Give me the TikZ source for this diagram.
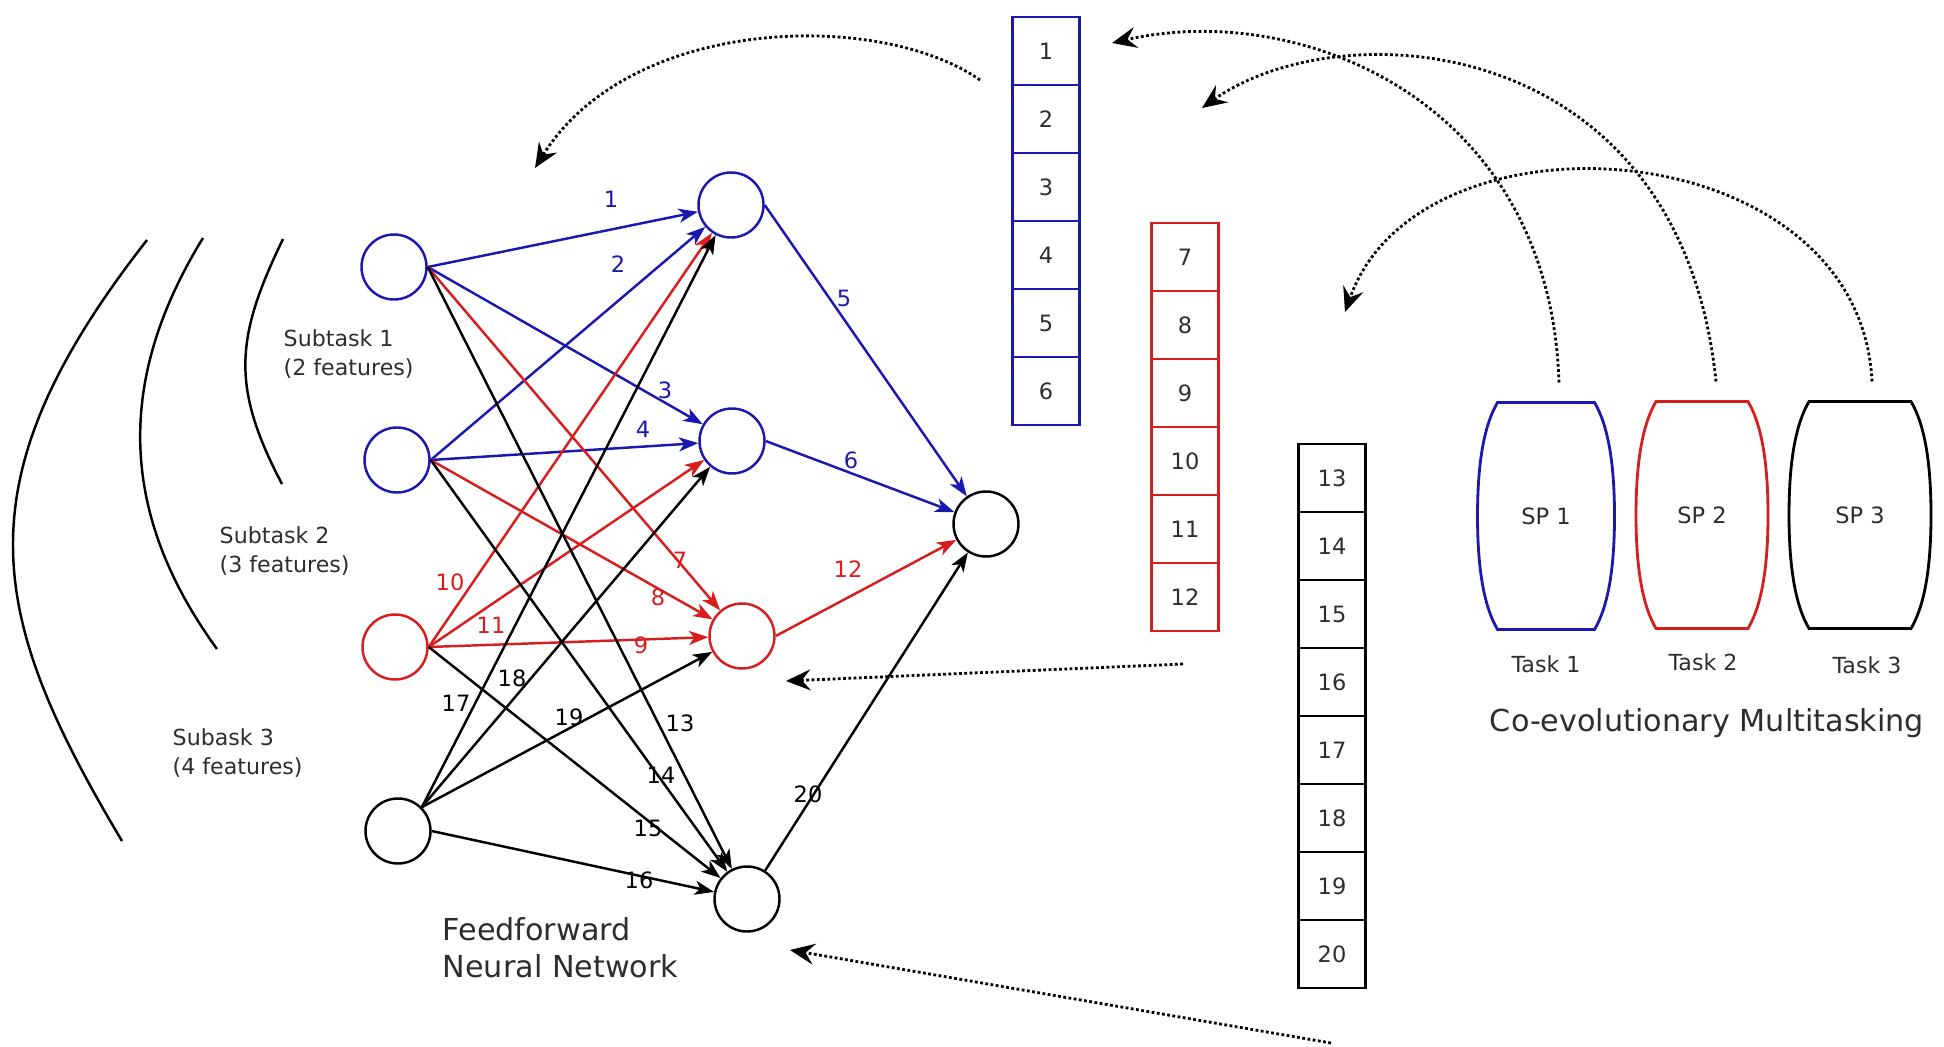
\documentclass[tikz,border=0pt]{standalone}
\usepackage{fontspec}
\setmainfont{DejaVu Sans}
\usepackage{xcolor}
\usepackage{tikz}
\usetikzlibrary{arrows.meta,calc,positioning}

\definecolor{netblue}{RGB}{25,25,175}
\definecolor{netred}{RGB}{215,30,30}
\definecolor{txtgray}{RGB}{45,45,45}

\begin{document}
\begin{tikzpicture}[x=0.1mm,y=-0.1mm]

\tikzset{neuron/.style = {shape=circle,draw,line width=0.7pt,minimum size=6.5mm,inner sep=0pt}}
\tikzset{edge/.style = {->,> = {Stealth[length=5.5pt,width=4pt,inset=1.5pt]},line width=0.7pt}}
\tikzset{cell/.style = {shape=rectangle,draw,line width=0.8pt,minimum width=6.7mm,minimum height=6.8mm,inner sep=0pt,outer sep=0pt,text=txtgray,font=\fontsize{6.4}{7.7}\selectfont}}
\tikzset{sp/.style = {shape=rectangle,minimum width=13.7mm,minimum height=22.7mm,inner sep=0pt,outer sep=0pt,text=txtgray,font=\fontsize{6.4}{7.7}\selectfont}}
\tikzset{barrel/.style = {line width=0.8pt}}
\tikzset{wlabel/.style = {inner sep=0pt,font=\fontsize{6.4}{7.7}\selectfont}}
\tikzset{small/.style = {inner sep=0pt,align=left,text=txtgray,font=\fontsize{6.3}{8}\selectfont}}
\tikzset{big/.style = {inner sep=0pt,align=left,text=txtgray,font=\fontsize{8.6}{10.6}\selectfont}}
\tikzset{link/.style = {->,> = {Stealth[length=7pt,width=6pt,inset=2.5pt]},line width=0.8pt,dash pattern=on 0.8pt off 0.7pt}}

\useasboundingbox (0,0) rectangle (1944,1047);

% neurons
\node[neuron,draw=netblue] (i1) at (394,267) {};
\node[neuron,draw=netblue] (i2) at (397,460) {};
\node[neuron,draw=netred] (i3) at (395,647) {};
\node[neuron] (i4) at (398,831) {};
\node[neuron,draw=netblue] (h1) at (731,205) {};
\node[neuron,draw=netblue] (h2) at (732,441) {};
\node[neuron,draw=netred] (h3) at (742,636) {};
\node[neuron] (h4) at (747,899) {};
\node[neuron] (o) at (986,524) {};

% edges
\draw[edge,netblue] (i1.east) to (h1);
\draw[edge,netblue] (i2.east) to (h1);
\draw[edge,netblue] (i1.east) to (h2);
\draw[edge,netblue] (i2.east) to (h2);
\draw[edge,netblue] (h1.east) to (o);
\draw[edge,netblue] (h2.east) to (o);
\draw[edge,netred] (i1.east) to (h3);
\draw[edge,netred] (i2.east) to (h3);
\draw[edge,netred] (i3.east) to (h3);
\draw[edge,netred] (i3.east) to (h1);
\draw[edge,netred] (i3.east) to (h2);
\draw[edge,netred] (h3.east) to (o);
\draw[edge] (i1.east) to (h4);
\draw[edge] (i2.east) to (h4);
\draw[edge] (i3.east) to (h4);
\draw[edge] (i4.east) to (h4);
\draw[edge] (i4.north east) to (h1);
\draw[edge] (i4.north east) to (h2);
\draw[edge] (i4.north east) to (h3);
\draw[edge] (h4) to (o);

% edge numbers
\node[wlabel,text=netblue] (l1) at (611,199) {1};
\node[wlabel,text=netblue] (l2) at (618,264) {2};
\node[wlabel,text=netblue] (l3) at (665,390) {3};
\node[wlabel,text=netblue] (l4) at (643,429) {4};
\node[wlabel,text=netblue] (l5) at (844,298) {5};
\node[wlabel,text=netblue] (l6) at (851,460) {6};
\node[wlabel,text=netred] (l7) at (680,560) {7};
\node[wlabel,text=netred] (l8) at (658,597) {8};
\node[wlabel,text=netred] (l9) at (641,645) {9};
\node[wlabel,text=netred] (l10) at (450,582) {10};
\node[wlabel,text=netred] (l11) at (491,625) {11};
\node[wlabel,text=netred] (l12) at (848,569) {12};
\node[wlabel] (l13) at (680,723) {13};
\node[wlabel] (l14) at (661,775) {14};
\node[wlabel] (l15) at (648,828) {15};
\node[wlabel] (l16) at (639,880) {16};
\node[wlabel] (l17) at (456,703) {17};
\node[wlabel] (l18) at (512,678) {18};
\node[wlabel] (l19) at (569,717) {19};
\node[wlabel] (l20) at (808,794) {20};

% subtask brackets
\draw[line width=0.7pt] (283,239) .. controls (235,338) and (231,387) .. (282,484);
\draw[line width=0.7pt] (203,238) .. controls (118,376) and (116,510) .. (217,649);
\draw[line width=0.7pt] (147,240) .. controls (-43,483) and (-12,616) .. (122,841);
\node[small,anchor=west] (st1) at (283,354) {Subtask 1\\(2 features)};
\node[small,anchor=west] (st2) at (219,551) {Subtask 2\\(3 features)};
\node[small,anchor=west] (st3) at (172,753) {Subask 3\\(4 features)};
\node[big,anchor=west] (ffnn) at (442,948) {Feedforward\\Neural Network};

% weight cells
\node[cell,draw=netblue] (w1) at (1046,51) {1};
\node[cell,draw=netblue,below=0pt of w1] (w2) {2};
\node[cell,draw=netblue,below=0pt of w2] (w3) {3};
\node[cell,draw=netblue,below=0pt of w3] (w4) {4};
\node[cell,draw=netblue,below=0pt of w4] (w5) {5};
\node[cell,draw=netblue,below=0pt of w5] (w6) {6};
\node[cell,draw=netred] (w7) at (1185,257) {7};
\node[cell,draw=netred,below=0pt of w7] (w8) {8};
\node[cell,draw=netred,below=0pt of w8] (w9) {9};
\node[cell,draw=netred,below=0pt of w9] (w10) {10};
\node[cell,draw=netred,below=0pt of w10] (w11) {11};
\node[cell,draw=netred,below=0pt of w11] (w12) {12};
\node[cell] (w13) at (1332,478) {13};
\node[cell,below=0pt of w13] (w14) {14};
\node[cell,below=0pt of w14] (w15) {15};
\node[cell,below=0pt of w15] (w16) {16};
\node[cell,below=0pt of w16] (w17) {17};
\node[cell,below=0pt of w17] (w18) {18};
\node[cell,below=0pt of w18] (w19) {19};
\node[cell,below=0pt of w19] (w20) {20};

% sub-populations
\node[sp] (sp1) at (1546,516) {SP 1};
\node[sp,minimum width=13.2mm] (sp2) at (1702,515) {SP 2};
\node[sp,minimum width=14.2mm] (sp3) at (1860,515) {SP 3};
\foreach \s/\c in {sp1/netblue,sp2/netred,sp3/black}
  \draw[barrel,\c] ($(\s.north west)+(20,0)$) -- ($(\s.north east)+(-20,0)$)
    .. controls ($(\s.north east)+(-7,22)$) and ($(\s.east)+(0,-55)$) .. (\s.east)
    .. controls ($(\s.east)+(0,55)$) and ($(\s.south east)+(-7,-22)$) .. ($(\s.south east)+(-20,0)$)
    -- ($(\s.south west)+(20,0)$)
    .. controls ($(\s.south west)+(7,-22)$) and ($(\s.west)+(0,55)$) .. (\s.west)
    .. controls ($(\s.west)+(0,-55)$) and ($(\s.north west)+(7,22)$) .. cycle;
\node[small] (t1) at (1546,664) {Task 1};
\node[small] (t2) at (1703,662) {Task 2};
\node[small] (t3) at (1867,665) {Task 3};
\node[big] (cm) at (1707,723) {Co-evolutionary Multitasking};

% transfers
\coordinate (a0) at (980,80);
\coordinate (a1) at (535,168);
\coordinate (b1) at (1112,43);
\coordinate (c1) at (1202,108);
\coordinate (d1) at (1345,312);
\coordinate (e0) at (1183,664);
\coordinate (e1) at (786,681);
\coordinate (f0) at (1331,1043);
\coordinate (f1) at (790,950);
\draw[link] (a0) .. controls (880,10) and (630,15) .. (a1);
\draw[link] ([xshift=1.3mm,yshift=2mm]sp1.north) .. controls (1550,100) and (1300,0) .. (b1);
\draw[link] ([xshift=1.4mm,yshift=2mm]sp2.north) .. controls (1680,30) and (1340,10) .. (c1);
\draw[link] ([xshift=1.2mm,yshift=2mm]sp3.north) .. controls (1860,130) and (1420,100) .. (d1);
\draw[link] (e0) -- (e1);
\draw[link] (f0) -- (f1);
\end{tikzpicture}
\end{document}
